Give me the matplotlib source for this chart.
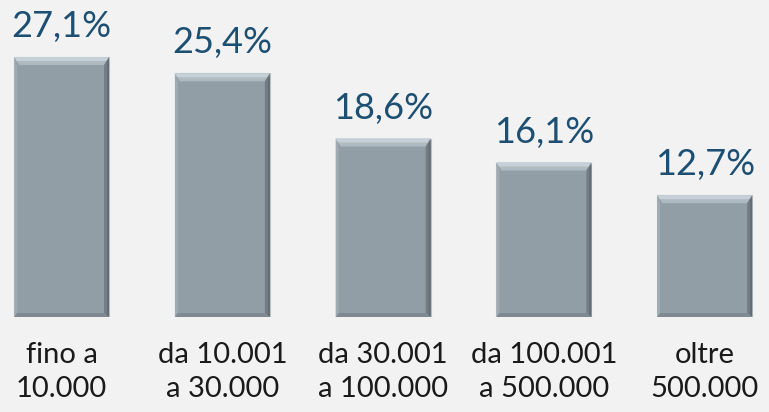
import matplotlib
matplotlib.use("Agg")
import matplotlib.pyplot as plt
from matplotlib.patches import Polygon

categories = ["fino a\n10.000", "da 10.001\na 30.000", "da 30.001\na 100.000",
              "da 100.001\na 500.000", "oltre\n500.000"]
values = [27.1, 25.4, 18.6, 16.1, 12.7]
value_labels = ["27,1%", "25,4%", "18,6%", "16,1%", "12,7%"]

bg = "#f2f2f2"
bar_col = "#929ea6"

fig = plt.figure(figsize=(7.69, 4.12), dpi=100, facecolor=bg)
ax = fig.add_axes([0, 95 / 412, 1, 317 / 412])
ax.set_facecolor(bg)

x = list(range(len(values)))
bars = ax.bar(x, values, width=0.59, color=bar_col, edgecolor="#b9c0c5", linewidth=0.8, zorder=2)

ax.set_xlim(-0.383, 4.40)
ax.set_ylim(0, 33.05)

# bevel effect: light top band (two steps), darker right and bottom edges
px_x = 1 / 160.7
px_y = 1 / 9.59


def band(pts, col):
    ax.add_patch(Polygon(pts, closed=True, facecolor=col, edgecolor="none", zorder=3))


for b in bars:
    x0, y0 = b.get_x(), b.get_y()
    w, h = b.get_width(), b.get_height()
    x1, y1 = x0 + w, y0 + h
    bx = 5 * px_x
    band([(x0, y1), (x1, y1), (x1 - bx, y1 - 8 * px_y), (x0 + bx, y1 - 8 * px_y)], "#aeb9c1")
    band([(x0, y1), (x1, y1), (x1 - 2.5 * px_x, y1 - 4 * px_y), (x0 + 2.5 * px_x, y1 - 4 * px_y)], "#c6d0d7")
    band([(x1, y1), (x1, y0), (x1 - bx, y0 + 4 * px_y), (x1 - bx, y1 - 8 * px_y)], "#737d85")
    band([(x1, y1 - 2 * px_y), (x1, y0), (x1 - 2 * px_x, y0 + 2 * px_y), (x1 - 2 * px_x, y1 - 5 * px_y)], "#636c73")
    band([(x0, y1), (x0, y0), (x0 + 3 * px_x, y0 + 4 * px_y), (x0 + 3 * px_x, y1 - 8 * px_y)], "#a0aab1")
    band([(x0, y0), (x1, y0), (x1 - bx, y0 + 4 * px_y), (x0 + 3 * px_x, y0 + 4 * px_y)], "#7f898f")

ax.bar_label(bars, labels=value_labels, padding=10, fontsize=26, color="#1d4f73",
             family="Lato")

ax.set_xticks(x)
ax.set_xticklabels(categories, fontsize=21, family="Lato", color="#1a1a1a", linespacing=1.4)
ax.tick_params(axis="x", length=0, pad=18)
ax.set_yticks([])
for s in ax.spines.values():
    s.set_visible(False)

fig.savefig("out.png", dpi=100, facecolor=bg)
